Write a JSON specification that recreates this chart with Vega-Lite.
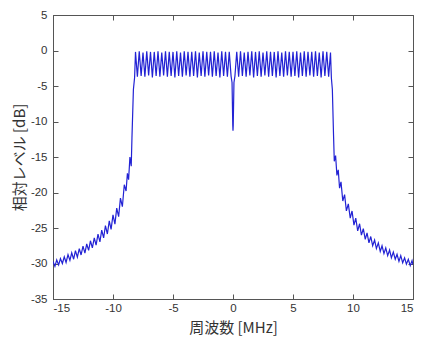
{
  "$schema": "https://vega.github.io/schema/vega-lite/v6.json",
  "width": 360,
  "height": 284,
  "autosize": "none",
  "padding": {"left": 53, "top": 15, "right": 22, "bottom": 40},
  "background": "white",
  "config": {
    "view": {"stroke": "#555555", "strokeWidth": 1},
    "axis": {
      "grid": false,
      "domainColor": "#555555",
      "tickColor": "#555555",
      "tickSize": -5,
      "labelFont": "Liberation Sans",
      "labelFontSize": 11.5,
      "labelColor": "#333333",
      "titleFont": "Noto Sans CJK JP",
      "titleFontSize": 15,
      "titleFontWeight": "normal",
      "titleColor": "#333333"
    }
  },
  "data": {"values": [
    {"f":-15.0,"db":-29.7},{"f":-14.84,"db":-30.4},{"f":-14.69,"db":-29.5},{"f":-14.53,"db":-30.2},{"f":-14.38,"db":-29.3},{"f":-14.22,"db":-30.0},{"f":-14.06,"db":-29.05},{"f":-13.91,"db":-29.85},{"f":-13.75,"db":-28.75},{"f":-13.59,"db":-29.55},{"f":-13.44,"db":-28.5},{"f":-13.28,"db":-29.4},{"f":-13.13,"db":-28.2},{"f":-12.97,"db":-29.1},{"f":-12.81,"db":-27.9},{"f":-12.66,"db":-28.8},{"f":-12.5,"db":-27.55},{"f":-12.34,"db":-28.55},{"f":-12.19,"db":-27.25},{"f":-12.03,"db":-28.15},{"f":-11.88,"db":-26.8},{"f":-11.72,"db":-27.8},{"f":-11.56,"db":-26.4},{"f":-11.41,"db":-27.4},{"f":-11.25,"db":-25.85},{"f":-11.09,"db":-26.95},{"f":-10.94,"db":-25.3},{"f":-10.78,"db":-26.4},{"f":-10.63,"db":-24.65},{"f":-10.47,"db":-25.85},{"f":-10.31,"db":-24.0},{"f":-10.16,"db":-25.2},{"f":-10.0,"db":-23.15},{"f":-9.84,"db":-24.45},{"f":-9.69,"db":-22.2},{"f":-9.53,"db":-23.4},{"f":-9.38,"db":-20.8},{"f":-9.22,"db":-22.0},{"f":-9.06,"db":-18.9},{"f":-8.91,"db":-19.8},{"f":-8.8,"db":-17.3},{"f":-8.7,"db":-18.2},{"f":-8.59,"db":-15.0},{"f":-8.48,"db":-16.3},{"f":-8.42,"db":-12.3},{"f":-8.3,"db":-5.5},{"f":-8.2,"db":-3.8},
    {"f":-8.125,"db":-0.2},{"f":-7.96875,"db":-3.7},{"f":-7.8125,"db":-0.1},{"f":-7.65625,"db":-3.6},{"f":-7.5,"db":-0.3},{"f":-7.34375,"db":-3.7},{"f":-7.1875,"db":-0.1},{"f":-7.03125,"db":-3.5},{"f":-6.875,"db":-0.2},{"f":-6.71875,"db":-3.8},{"f":-6.5625,"db":-0.2},{"f":-6.40625,"db":-3.6},{"f":-6.25,"db":-0.1},{"f":-6.09375,"db":-3.7},{"f":-5.9375,"db":-0.3},{"f":-5.78125,"db":-3.5},{"f":-5.625,"db":-0.1},{"f":-5.46875,"db":-3.7},{"f":-5.3125,"db":-0.2},{"f":-5.15625,"db":-3.6},{"f":-5.0,"db":-0.2},{"f":-4.84375,"db":-3.8},{"f":-4.6875,"db":-0.1},{"f":-4.53125,"db":-3.6},{"f":-4.375,"db":-0.3},{"f":-4.21875,"db":-3.7},{"f":-4.0625,"db":-0.1},{"f":-3.90625,"db":-3.5},{"f":-3.75,"db":-0.2},{"f":-3.59375,"db":-3.7},{"f":-3.4375,"db":-0.2},{"f":-3.28125,"db":-3.6},{"f":-3.125,"db":-0.1},{"f":-2.96875,"db":-3.8},{"f":-2.8125,"db":-0.3},{"f":-2.65625,"db":-3.6},{"f":-2.5,"db":-0.1},{"f":-2.34375,"db":-3.7},{"f":-2.1875,"db":-0.2},{"f":-2.03125,"db":-3.5},{"f":-1.875,"db":-0.2},{"f":-1.71875,"db":-3.7},{"f":-1.5625,"db":-0.1},{"f":-1.40625,"db":-3.6},{"f":-1.25,"db":-0.3},{"f":-1.09375,"db":-3.8},{"f":-0.9375,"db":-0.1},{"f":-0.78125,"db":-3.6},{"f":-0.625,"db":-0.2},{"f":-0.46875,"db":-3.7},{"f":-0.3125,"db":-0.2},
    {"f":-0.16,"db":-3.6},{"f":-0.08,"db":-4.5},{"f":-0.02,"db":-10.5},{"f":0,"db":-11.3},{"f":0.02,"db":-10.5},{"f":0.08,"db":-4.5},{"f":0.16,"db":-3.6},
    {"f":0.3125,"db":-0.2},{"f":0.46875,"db":-3.7},{"f":0.625,"db":-0.1},{"f":0.78125,"db":-3.6},{"f":0.9375,"db":-0.3},{"f":1.09375,"db":-3.7},{"f":1.25,"db":-0.2},{"f":1.40625,"db":-3.5},{"f":1.5625,"db":-0.1},{"f":1.71875,"db":-3.8},{"f":1.875,"db":-0.2},{"f":2.03125,"db":-3.6},{"f":2.1875,"db":-0.1},{"f":2.34375,"db":-3.7},{"f":2.5,"db":-0.3},{"f":2.65625,"db":-3.5},{"f":2.8125,"db":-0.1},{"f":2.96875,"db":-3.7},{"f":3.125,"db":-0.2},{"f":3.28125,"db":-3.6},{"f":3.4375,"db":-0.2},{"f":3.59375,"db":-3.8},{"f":3.75,"db":-0.1},{"f":3.90625,"db":-3.6},{"f":4.0625,"db":-0.3},{"f":4.21875,"db":-3.7},{"f":4.375,"db":-0.1},{"f":4.53125,"db":-3.5},{"f":4.6875,"db":-0.2},{"f":4.84375,"db":-3.7},{"f":5.0,"db":-0.2},{"f":5.15625,"db":-3.6},{"f":5.3125,"db":-0.1},{"f":5.46875,"db":-3.8},{"f":5.625,"db":-0.3},{"f":5.78125,"db":-3.6},{"f":5.9375,"db":-0.1},{"f":6.09375,"db":-3.7},{"f":6.25,"db":-0.2},{"f":6.40625,"db":-3.5},{"f":6.5625,"db":-0.2},{"f":6.71875,"db":-3.7},{"f":6.875,"db":-0.1},{"f":7.03125,"db":-3.6},{"f":7.1875,"db":-0.3},{"f":7.34375,"db":-3.8},{"f":7.5,"db":-0.1},{"f":7.65625,"db":-3.6},{"f":7.8125,"db":-0.2},{"f":7.96875,"db":-3.7},{"f":8.125,"db":-0.3},
    {"f":8.2,"db":-3.9},{"f":8.28,"db":-5.5},{"f":8.38,"db":-12.0},{"f":8.44,"db":-15.6},{"f":8.55,"db":-14.8},{"f":8.66,"db":-17.6},{"f":8.77,"db":-16.8},{"f":8.88,"db":-19.4},{"f":9.0,"db":-18.5},{"f":9.15,"db":-21.2},{"f":9.3,"db":-20.3},{"f":9.45,"db":-22.6},{"f":9.61,"db":-21.6},{"f":9.77,"db":-23.6},{"f":9.92,"db":-22.6},{"f":10.08,"db":-24.6},{"f":10.23,"db":-23.6},{"f":10.39,"db":-25.4},{"f":10.55,"db":-24.4},{"f":10.7,"db":-26.0},{"f":10.86,"db":-25.1},{"f":11.02,"db":-26.6},{"f":11.17,"db":-25.7},{"f":11.33,"db":-27.1},{"f":11.48,"db":-26.2},{"f":11.64,"db":-27.5},{"f":11.8,"db":-26.7},{"f":11.95,"db":-27.9},{"f":12.11,"db":-27.1},{"f":12.27,"db":-28.3},{"f":12.42,"db":-27.5},{"f":12.58,"db":-28.6},{"f":12.73,"db":-27.8},{"f":12.89,"db":-28.9},{"f":13.05,"db":-28.1},{"f":13.2,"db":-29.2},{"f":13.36,"db":-28.4},{"f":13.52,"db":-29.4},{"f":13.67,"db":-28.7},{"f":13.83,"db":-29.7},{"f":13.98,"db":-28.9},{"f":14.14,"db":-29.9},{"f":14.3,"db":-29.2},{"f":14.45,"db":-30.1},{"f":14.61,"db":-29.4},{"f":14.77,"db":-30.3},{"f":14.92,"db":-29.6},{"f":15.0,"db":-30.2}
  ]},
  "layer": [
    {
      "mark": {"type": "line", "strokeOpacity": 0},
      "encoding": {
        "x": {"field": "f", "type": "quantitative", "scale": {"domain": [-15, 15], "nice": false},
              "axis": {"orient": "top", "labels": false, "title": null, "domain": false, "values": [-15,-10,-5,0,5,10,15]}},
        "y": {"field": "db", "type": "quantitative", "scale": {"domain": [-35, 5], "nice": false},
              "axis": {"orient": "right", "labels": false, "title": null, "domain": false, "values": [-35,-30,-25,-20,-15,-10,-5,0,5]}}
      }
    },
    {
      "mark": {"type": "line", "color": "#2222d4", "strokeWidth": 1.2, "clip": true},
      "encoding": {
        "x": {"field": "f", "type": "quantitative", "scale": {"domain": [-15, 15], "nice": false},
              "axis": {"orient": "bottom", "title": "周波数 [MHz]", "values": [-15,-10,-5,0,5,10,15],
                       "labelPadding": 8, "labelExpr": "replace(datum.label, '−', '-')",
                       "titleY": 28, "titleBaseline": "middle"}},
        "y": {"field": "db", "type": "quantitative", "scale": {"domain": [-35, 5], "nice": false},
              "axis": {"orient": "left", "title": "相対レベル [dB]", "values": [-35,-30,-25,-20,-15,-10,-5,0,5],
                       "labelPadding": 11, "labelExpr": "replace(datum.label, '−', '-')",
                       "titleX": -34, "titleBaseline": "middle"}}
      }
    }
  ],
  "resolve": {"axis": {"x": "independent", "y": "independent"}}
}
